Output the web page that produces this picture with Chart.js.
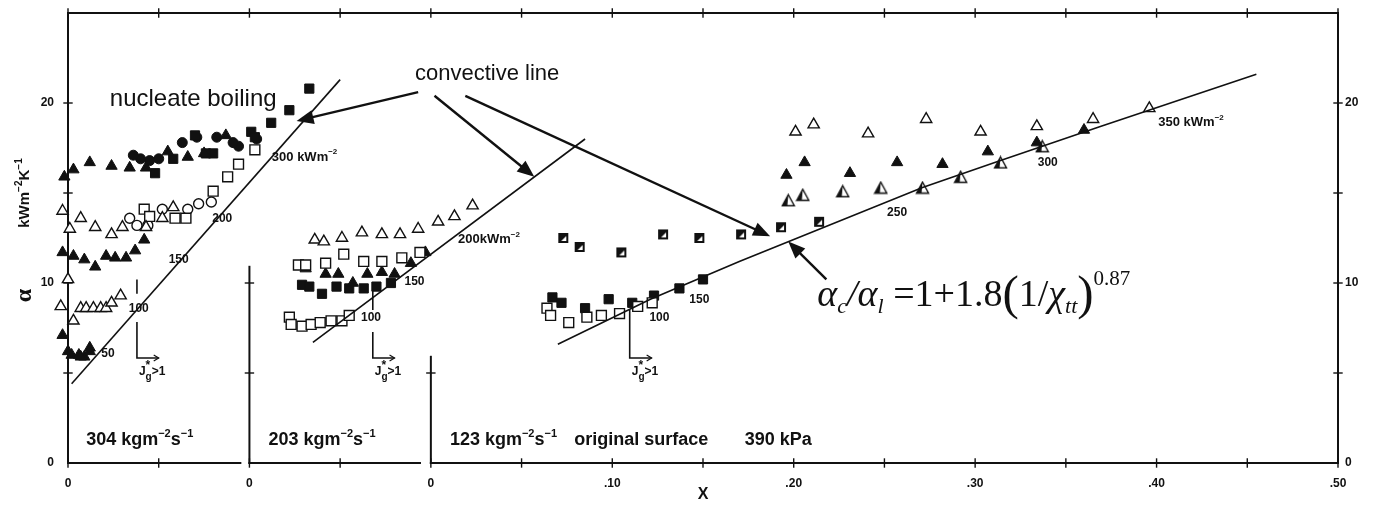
<!DOCTYPE html>
<html>
<head>
<meta charset="utf-8">
<script src="https://cdn.jsdelivr.net/npm/chart.js@4.4.1/dist/chart.umd.min.js"></script>
<style>
  html, body { margin: 0; padding: 0; background: #fff; }
  #wrap { width: 1382px; height: 507px; position: relative; }
</style>
</head>
<body>
<div id="wrap"><canvas id="chart"></canvas></div>
<script>
// each mass flux panel has its own x = 0 on the shared axis
const offset304 = -0.2;
const offset203 = -0.1;
const offset123 = 0;

// axis ticks
const xTickValues = [-0.2, -0.1, 0, 0.1, 0.2, 0.3, 0.4, 0.5];
const xTickLabels = ['0', '0', '0', '.10', '.20', '.30', '.40', '.50'];
const yTickValues = [0, 10, 20];
const yTickLabels = ['0', '10', '20'];

// 304 kg/m2s panel  [x, alpha kW/m2K]
const g304FilledTri = [[0.087,18.2],[0.075,17.2],[0.066,17.0],[0.055,17.3],[0.043,16.4],[0.034,16.4],[0.024,16.5],[0.012,16.7],[0.003,16.3],[-0.002,15.9],
  [0.042,12.4],[0.037,11.8],[0.032,11.4],[0.026,11.4],[0.021,11.5],[0.015,10.9],[0.009,11.3],[0.003,11.5],[-0.003,11.7],[-0.006,12.8],
  [-0.003,7.1],[0.000,6.2],[0.002,6.0],[0.006,6.0],[0.009,5.9],[0.012,6.2],[0.007,5.9],[0.012,6.4]];
const g304OpenTri = [[0.058,14.2],[0.052,13.6],[0.043,13.1],[0.030,13.1],[0.024,12.7],[0.015,13.1],[0.007,13.6],[0.001,13.0],[-0.003,14.0],
  [0.000,10.2],[-0.004,8.7],[0.007,8.6],[0.010,8.6],[0.014,8.6],[0.018,8.6],[0.021,8.6],[0.024,8.9],[0.029,9.3],[0.003,7.9]];
const g304FilledSq = [[0.133,20.8],[0.122,19.6],[0.112,18.9],[0.101,18.4],[0.103,18.1],[0.070,18.2],[0.080,17.2],[0.076,17.2],[0.058,16.9],[0.048,16.1]];
const g304FilledCirc = [[0.104,18.0],[0.094,17.6],[0.091,17.8],[0.082,18.1],[0.071,18.1],[0.063,17.8],[0.050,16.9],[0.045,16.8],[0.040,16.9],[0.036,17.1]];
const g304OpenSq = [[0.103,17.4],[0.094,16.6],[0.088,15.9],[0.080,15.1],[0.042,14.1],[0.045,13.7],[0.059,13.6],[0.065,13.6]];
const g304OpenCirc = [[0.079,14.5],[0.072,14.4],[0.066,14.1],[0.052,14.1],[0.034,13.6],[0.038,13.2],[0.044,13.2]];
const g304Line = [[0.002,4.4],[0.150,21.3]];

// 203 kg/m2s panel
const g203OpenTri = [[0.036,12.4],[0.041,12.3],[0.051,12.5],[0.062,12.8],[0.073,12.7],[0.083,12.7],[0.093,13.0],[0.104,13.4],[0.113,13.7],[0.123,14.3]];
const g203OpenSq = [[0.027,11.0],[0.031,11.0],[0.042,11.1],[0.052,11.6],[0.063,11.2],[0.073,11.2],[0.084,11.4],[0.094,11.7],
  [0.022,8.1],[0.023,7.7],[0.029,7.6],[0.034,7.7],[0.039,7.8],[0.045,7.9],[0.051,7.9],[0.055,8.2]];
const g203FilledTri = [[0.031,10.8],[0.042,10.5],[0.049,10.5],[0.057,10.0],[0.065,10.5],[0.073,10.6],[0.080,10.5],[0.089,11.1],[0.097,11.7]];
const g203FilledSq = [[0.029,9.9],[0.033,9.8],[0.040,9.4],[0.048,9.8],[0.055,9.7],[0.063,9.7],[0.070,9.8],[0.078,10.0]];
const g203Line = [[0.035,6.7],[0.185,18.0]];

// 123 kg/m2s panel
const g123HalfSq = [[0.073,12.5],[0.082,12.0],[0.105,11.7],[0.128,12.7],[0.148,12.5],[0.171,12.7],[0.193,13.1],[0.214,13.4]];
const g123FilledSq = [[0.067,9.2],[0.072,8.9],[0.085,8.6],[0.098,9.1],[0.111,8.9],[0.123,9.3],[0.137,9.7],[0.150,10.2]];
const g123OpenSq = [[0.064,8.6],[0.066,8.2],[0.076,7.8],[0.086,8.1],[0.094,8.2],[0.104,8.3],[0.114,8.7],[0.122,8.9]];
const g123OpenTri = [[0.201,18.4],[0.211,18.8],[0.241,18.3],[0.273,19.1],[0.303,18.4],[0.334,18.7],[0.365,19.1],[0.396,19.7]];
const g123FilledTri = [[0.196,16.0],[0.206,16.7],[0.231,16.1],[0.257,16.7],[0.282,16.6],[0.307,17.3],[0.334,17.8],[0.360,18.5]];
const g123HalfTri = [[0.197,14.6],[0.205,14.9],[0.227,15.1],[0.248,15.3],[0.271,15.3],[0.292,15.9],[0.314,16.7],[0.337,17.6]];
const g123Line = [[0.070,6.6],[0.121,9.1],[0.170,11.2],[0.271,15.3],[0.314,16.8],[0.369,18.7],[0.455,21.6]];

const INK = '#111';

// move panel-local x onto the shared axis
function shift(points, off) {
  return points.map(p => ({ x: p[0] + off, y: p[1] }));
}

// half filled square marker
function halfSquare() {
  const c = document.createElement('canvas');
  c.width = 12; c.height = 12;
  const g = c.getContext('2d');
  g.fillStyle = INK;
  g.fillRect(1, 1, 10, 10);
  g.fillStyle = '#fff';
  g.beginPath(); g.moveTo(9, 4); g.lineTo(9, 9); g.lineTo(4, 9); g.closePath(); g.fill();
  return c;
}

// half filled triangle marker
function halfTriangle() {
  const c = document.createElement('canvas');
  c.width = 15; c.height = 14;
  const g = c.getContext('2d');
  g.fillStyle = '#fff';
  g.strokeStyle = INK;
  g.lineWidth = 1.4;
  g.beginPath(); g.moveTo(7.5, 1.5); g.lineTo(13.5, 12.5); g.lineTo(1.5, 12.5); g.closePath(); g.fill(); g.stroke();
  g.fillStyle = INK;
  g.beginPath(); g.moveTo(7.5, 1.5); g.lineTo(1.5, 12.5); g.lineTo(6.5, 12.5); g.closePath(); g.fill();
  return c;
}

function markers(data, style, radius, filled) {
  return {
    type: 'scatter', data: data, pointStyle: style, pointRadius: radius, pointHoverRadius: radius,
    backgroundColor: filled ? INK : '#fff', borderColor: INK, borderWidth: filled ? 1 : 1.4, clip: false
  };
}

function curve(data) {
  return {
    type: 'line', data: data, showLine: true, pointRadius: 0, borderColor: INK, borderWidth: 1.6,
    tension: 0, fill: false, clip: false
  };
}

// draw a run of text pieces (sub/superscripts) from left, centre or right
function rich(ctx, parts, x, y, align) {
  let w = 0;
  parts.forEach(p => { ctx.font = p.f; if (!p.stack) w += ctx.measureText(p.t).width; });
  let cx = align === 'center' ? x - w / 2 : align === 'right' ? x - w : x;
  parts.forEach(p => {
    ctx.font = p.f;
    ctx.fillText(p.t, cx, y + (p.dy || 0));
    if (!p.stack) cx += ctx.measureText(p.t).width;
  });
}

function arrowHead(ctx, x1, y1, x2, y2, len, half) {
  const a = Math.atan2(y2 - y1, x2 - x1);
  ctx.beginPath();
  ctx.moveTo(x2, y2);
  ctx.lineTo(x2 - len * Math.cos(a) + half * Math.sin(a), y2 - len * Math.sin(a) - half * Math.cos(a));
  ctx.lineTo(x2 - len * Math.cos(a) - half * Math.sin(a), y2 - len * Math.sin(a) + half * Math.cos(a));
  ctx.closePath();
  ctx.fill();
}

const decor = {
  id: 'decor',
  beforeDatasetsDraw(chart) {
    const { ctx, scales: { x, y } } = chart;
    const X = v => x.getPixelForValue(v), Y = v => y.getPixelForValue(v);
    ctx.save();
    ctx.strokeStyle = INK;
    ctx.lineCap = 'square';
    const seg = (x1, y1, x2, y2) => { ctx.beginPath(); ctx.moveTo(X(x1), Y(y1)); ctx.lineTo(X(x2), Y(y2)); ctx.stroke(); };
    ctx.lineWidth = 2;
    // frame and panel axes
    seg(-0.2, 0, -0.2, 25); seg(-0.2, 25, 0.5, 25); seg(0.5, 25, 0.5, 0);
    seg(-0.2, 0, -0.105, 0); seg(-0.1, 0, -0.006, 0); seg(0, 0, 0.5, 0);
    seg(-0.1, 0, -0.1, 10.9); seg(0, 0, 0, 5.9);
    // tick crosses
    ctx.lineWidth = 1.4;
    const t = 4;
    for (let i = 0; i <= 14; i++) {
      const v = -0.2 + i * 0.05;
      ctx.beginPath(); ctx.moveTo(X(v), Y(25) - t); ctx.lineTo(X(v), Y(25) + t); ctx.stroke();
      ctx.beginPath(); ctx.moveTo(X(v), Y(0) - t); ctx.lineTo(X(v), Y(0) + t); ctx.stroke();
    }
    [5, 10, 15, 20].forEach(v => {
      [-0.2, 0.5].forEach(xv => { ctx.beginPath(); ctx.moveTo(X(xv) - t, Y(v)); ctx.lineTo(X(xv) + t, Y(v)); ctx.stroke(); });
    });
    [5, 10].forEach(v => { ctx.beginPath(); ctx.moveTo(X(-0.1) - t, Y(v)); ctx.lineTo(X(-0.1) + t, Y(v)); ctx.stroke(); });
    ctx.beginPath(); ctx.moveTo(X(0) - t, Y(5)); ctx.lineTo(X(0) + t, Y(5)); ctx.stroke();
    ctx.restore();
  },
  afterDatasetsDraw(chart) {
    const { ctx, scales: { x, y }, chartArea } = chart;
    const X = v => x.getPixelForValue(v), Y = v => y.getPixelForValue(v);
    ctx.save();
    ctx.fillStyle = INK;
    ctx.strokeStyle = INK;
    ctx.textBaseline = 'middle';

    // heat flux labels along the convective lines
    const b = 'bold 12px "Liberation Sans"', bs = 'bold 8px "Liberation Sans"';
    const b13 = 'bold 13px "Liberation Sans"';
    const flux = [
      [-0.0696, 17.0, '300 kWm'], [-0.115, 13.6, '200'], [-0.139, 11.3, '150'], [-0.161, 8.6, '100'], [-0.178, 6.1, '50'],
      [0.032, 12.4, '200kWm'], [-0.009, 10.1, '150'], [-0.033, 8.1, '100'],
      [0.126, 8.1, '100'], [0.148, 9.1, '150'], [0.257, 13.9, '250'], [0.340, 16.7, '300'], [0.419, 18.9, '350 kWm']
    ];
    flux.forEach(f => {
      const parts = [{ t: f[2], f: f[2].indexOf('kW') >= 0 ? b13 : b }];
      if (f[2].indexOf('kW') >= 0) parts.push({ t: '−2', f: bs, dy: -5 });
      rich(ctx, parts, X(f[0]), Y(f[1]), 'center');
    });

    // J*g > 1 markers
    ctx.lineWidth = 1.6;
    const jg = [
      [-0.162, 7.83, 5.83, -0.150, [10.2, 9.4]],
      [-0.032, 7.28, 5.83, -0.020, [9.6, 8.5]],
      [0.1096, 8.5, 5.83, 0.1217, null]
    ];
    jg.forEach(j => {
      ctx.beginPath(); ctx.moveTo(X(j[0]), Y(j[1])); ctx.lineTo(X(j[0]), Y(j[2])); ctx.lineTo(X(j[3]), Y(j[2])); ctx.stroke();
      ctx.lineWidth = 1.2;
      ctx.beginPath();
      ctx.moveTo(X(j[3]) - 5, Y(j[2]) - 3); ctx.lineTo(X(j[3]), Y(j[2])); ctx.lineTo(X(j[3]) - 5, Y(j[2]) + 3);
      ctx.stroke();
      ctx.lineWidth = 1.6;
      if (j[4]) { ctx.beginPath(); ctx.moveTo(X(j[0]), Y(j[4][0])); ctx.lineTo(X(j[0]), Y(j[4][1])); ctx.stroke(); }
      rich(ctx, [
        { t: 'J', f: b }, { t: '*', f: b, dy: -6, stack: true }, { t: 'g', f: 'bold 10px "Liberation Sans"', dy: 5 },
        { t: '>1', f: b }
      ], X(j[0]) + 2, Y(j[2]) + 14, 'left');
    });

    // mass flux captions
    const cap = 'bold 18px "Liberation Sans"', capS = 'bold 11px "Liberation Sans"';
    const kg = n => [{ t: n + ' kg', f: cap }, { t: 'm', f: cap }, { t: '−2', f: capS, dy: -7 }, { t: 's', f: cap }, { t: '−1', f: capS, dy: -7 }];
    rich(ctx, kg('304'), X(-0.19), Y(1.25), 'left');
    rich(ctx, kg('203'), X(-0.0895), Y(1.25), 'left');
    rich(ctx, kg('123'), X(0.0105), Y(1.25), 'left');
    ctx.font = cap;
    ctx.fillText('original surface', X(0.079), Y(1.25));
    ctx.fillText('390 kPa', X(0.173), Y(1.25));

    // axis titles
    ctx.textAlign = 'center';
    ctx.font = 'bold 16px "Liberation Sans"';
    ctx.fillText('X', X(0.15), chartArea.bottom + 32);
    ctx.save();
    ctx.translate(chartArea.left - 43, Y(9.3));
    ctx.rotate(-Math.PI / 2);
    ctx.font = 'bold 24px "Liberation Serif"';
    ctx.fillText('α', 0, 0);
    ctx.restore();
    ctx.save();
    ctx.translate(chartArea.left - 43, Y(15.0));
    ctx.rotate(-Math.PI / 2);
    ctx.textAlign = 'left';
    rich(ctx, [{ t: 'kWm', f: 'bold 15px "Liberation Sans"' }, { t: '−2', f: 'bold 10px "Liberation Sans"', dy: -6 },
      { t: 'K', f: 'bold 15px "Liberation Sans"' }, { t: '−1', f: 'bold 10px "Liberation Sans"', dy: -6 }], 0, 0, 'center');
    ctx.restore();
    ctx.textAlign = 'left';

    // annotations
    ctx.font = '24px "Liberation Sans"';
    ctx.textAlign = 'center';
    ctx.fillText('nucleate boiling', X(-0.131), Y(20.2));
    ctx.font = '22px "Liberation Sans"';
    ctx.fillText('convective line', X(0.031), Y(21.6));
    ctx.textAlign = 'left';

    const arrows = [
      [-0.007, 20.6, -0.074, 19.0],
      [0.002, 20.4, 0.057, 15.9],
      [0.019, 20.4, 0.187, 12.6],
      [0.218, 10.2, 0.197, 12.3]
    ];
    ctx.lineWidth = 2.4;
    arrows.forEach(a => {
      const x1 = X(a[0]), y1 = Y(a[1]), x2 = X(a[2]), y2 = Y(a[3]);
      const ang = Math.atan2(y2 - y1, x2 - x1);
      ctx.beginPath(); ctx.moveTo(x1, y1); ctx.lineTo(x2 - 10 * Math.cos(ang), y2 - 10 * Math.sin(ang)); ctx.stroke();
      arrowHead(ctx, x1, y1, x2, y2, 17, 7);
    });

    // correlation
    const it = 'italic 38px "Liberation Serif"', rm = '38px "Liberation Serif"';
    const sub = 'italic 22px "Liberation Serif"', par = '49px "Liberation Serif"';
    ctx.textBaseline = 'alphabetic';
    rich(ctx, [
      { t: 'α', f: it }, { t: 'c', f: sub, dy: 7 }, { t: '/', f: it }, { t: 'α', f: it }, { t: 'l', f: sub, dy: 7 },
      { t: ' =1+1.8', f: rm }, { t: '(', f: par, dy: 3 }, { t: '1/', f: rm }, { t: 'χ', f: it }, { t: 'tt', f: sub, dy: 7 },
      { t: ')', f: par, dy: 3 }, { t: '0.87', f: '21px "Liberation Serif"', dy: -21 }
    ], X(0.213), Y(8.75), 'left');
    ctx.restore();
  }
};

const tickFont = { family: 'Liberation Sans', size: 12, weight: 'bold' };

// vertical axes: keep label overflow from pushing the plot area down
const flatFit = w => s => { s.width = w; s.paddingTop = 0; s.paddingBottom = 0; };

new Chart(document.getElementById('chart'), {
  type: 'scatter',
  data: {
    datasets: [
      curve(shift(g304Line, offset304)),
      curve(shift(g203Line, offset203)),
      curve(shift(g123Line, offset123)),
      markers([...shift(g304OpenTri, offset304), ...shift(g203OpenTri, offset203), ...shift(g123OpenTri, offset123)], 'triangle', 6.5, false),
      markers([...shift(g304OpenSq, offset304), ...shift(g203OpenSq, offset203), ...shift(g123OpenSq, offset123)], 'rect', 7, false),
      markers(shift(g304OpenCirc, offset304), 'circle', 5, false),
      markers([...shift(g304FilledTri, offset304), ...shift(g203FilledTri, offset203), ...shift(g123FilledTri, offset123)], 'triangle', 6.5, true),
      markers([...shift(g304FilledSq, offset304), ...shift(g203FilledSq, offset203), ...shift(g123FilledSq, offset123)], 'rect', 6.5, true),
      markers(shift(g304FilledCirc, offset304), 'circle', 5, true),
      markers(shift(g123HalfSq, offset123), halfSquare(), 6, true),
      markers(shift(g123HalfTri, offset123), halfTriangle(), 7, true)
    ]
  },
  options: {
    responsive: true,
    maintainAspectRatio: false,
    animation: false,
    layout: { padding: { top: 13, left: 0, right: 0, bottom: 0 } },
    plugins: { legend: { display: false }, tooltip: { enabled: false } },
    scales: {
      x: {
        type: 'linear', position: 'bottom', min: -0.2, max: 0.5,
        afterBuildTicks: s => { s.ticks = xTickValues.map(v => ({ value: v })); },
        afterFit: s => { s.height = 44; s.paddingLeft = 0; s.paddingRight = 0; },
        ticks: { callback: (v, i) => xTickLabels[i], font: tickFont, color: INK, padding: 13, maxRotation: 0, autoSkip: false },
        grid: { display: false, drawTicks: false },
        border: { display: false }
      },
      y: {
        type: 'linear', position: 'left', min: 0, max: 25,
        afterBuildTicks: s => { s.ticks = yTickValues.map(v => ({ value: v })); },
        afterFit: flatFit(68),
        ticks: { callback: (v, i) => yTickLabels[i], font: tickFont, color: INK, padding: 14 },
        grid: { display: false, drawTicks: false },
        border: { display: false }
      },
      y2: {
        type: 'linear', position: 'right', min: 0, max: 25,
        afterBuildTicks: s => { s.ticks = yTickValues.map(v => ({ value: v })); },
        afterFit: flatFit(44),
        ticks: { callback: (v, i) => yTickLabels[i], font: tickFont, color: INK, padding: 7 },
        grid: { display: false, drawTicks: false },
        border: { display: false }
      }
    }
  },
  plugins: [decor]
});
</script>
</body>
</html>
